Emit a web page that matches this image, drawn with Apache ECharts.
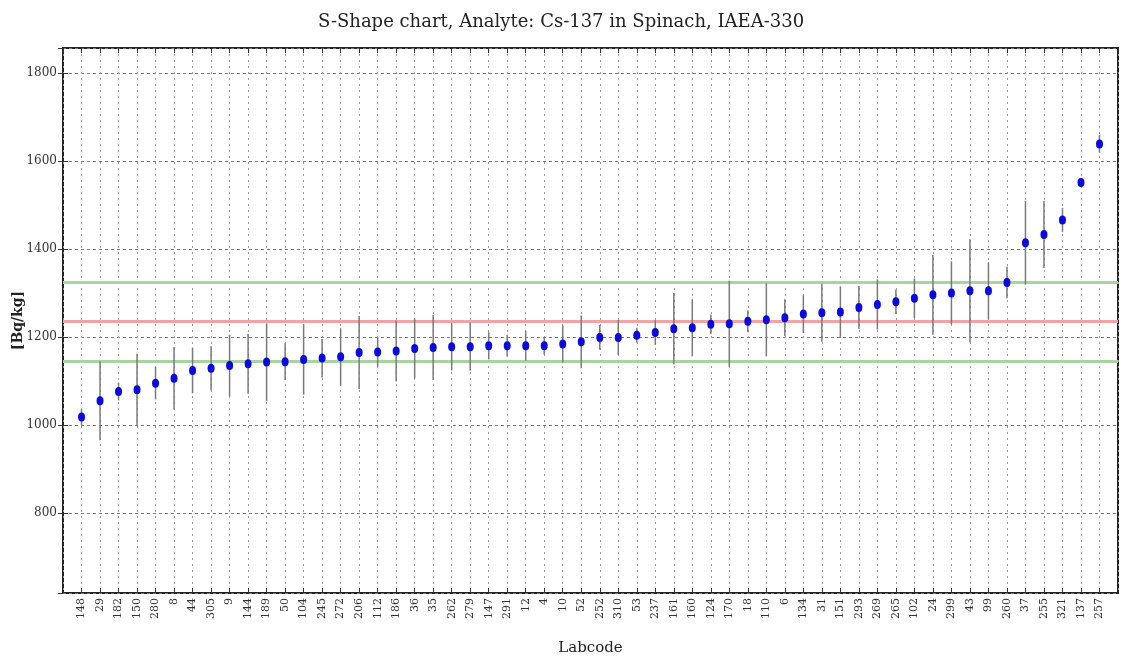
<!DOCTYPE html>
<html>
<head>
<meta charset="utf-8">
<script src="https://cdn.jsdelivr.net/npm/echarts@6/dist/echarts.min.js"></script>
<style>
html,body{margin:0;padding:0;background:#fff;}
#chart{width:1122px;height:662px;}
</style>
</head>
<body>
<div id="chart"></div>
<script>
// Lab codes (sorted by reported value)
var labcodes = ['148','29','182','150','280','8','44','305','9','144','189','50','104','245','272','206','112','186','36','35','262','279','147','291','12','4','10','52','252','310','53','237','161','160','124','170','18','110','6','134','31','151','293','269','265','102','24','299','43','99','260','37','255','321','137','257'];
// Reported values [Bq/kg]
var values = [1018,1055,1076,1080,1095,1106,1124,1129,1135,1139,1143,1144,1149,1152,1155,1165,1166,1168,1174,1176,1178,1178,1180,1180,1180,1180,1184,1189,1199,1199,1204,1210,1219,1221,1229,1230,1236,1239,1244,1252,1255,1257,1267,1274,1280,1288,1296,1300,1305,1305,1324,1414,1433,1466,1551,1639];
// Reported uncertainties [Bq/kg]
var uncertainties = [18,90,20,82,37,71,52,50,70,68,88,42,80,44,65,83,34,69,68,74,54,55,31,25,34,20,42,60,28,40,17,28,81,65,22,98,25,83,42,43,66,58,49,57,28,45,91,72,117,65,36,95,76,27,10,20];
// Reference value and acceptance limits
var refValue = 1235;
var limitLow = 1145;
var limitHigh = 1325;
var yTicks = [800,1000,1200,1400,1600,1800];

var pointData = values.map(function(v,i){ return [i+1, v]; });
var barData = values.map(function(v,i){ return [i+1, v-uncertainties[i], v+uncertainties[i]]; });

var serif = 'DejaVu Serif';
var chart = echarts.init(document.getElementById('chart'));
var yMin = 618, yMax = 1857;
var option = {
  animation: false,
  backgroundColor: '#ffffff',
  title: {
    text: 'S-Shape chart, Analyte: Cs-137 in Spinach, IAEA-330',
    left: 'center', top: 8,
    textStyle: {fontFamily: serif, fontSize: 18, fontWeight: 'normal', color: '#222'}
  },
  grid: {left: 63, right: 4, top: 48, bottom: 69, show: true, borderColor: '#222', borderWidth: 2, backgroundColor: '#fff', containLabel: false, outerBoundsMode: 'none'},
  xAxis: [{
    type: 'value', min: 0, max: labcodes.length + 1, interval: 1,
    name: 'Labcode', nameLocation: 'middle', nameGap: 48, nameMoveOverlap: false,
    nameTextStyle: {fontFamily: serif, fontSize: 15, color: '#222'},
    axisLine: {show: false},
    axisTick: {show: true, inside: true, length: 5, lineStyle: {color: '#333'}},
    axisLabel: {
      rotate: 90, fontFamily: serif, fontSize: 11, color: '#333', margin: 5,
      showMinLabel: false, showMaxLabel: false,
      formatter: function(v){ return (v >= 1 && v <= labcodes.length) ? labcodes[v-1] : ''; }
    },
    splitLine: {show: true, lineStyle: {color: '#9a9a9a', type: [2,4], width: 1}}
  },{
    type: 'value', position: 'top', min: 0, max: labcodes.length + 1, interval: 1,
    axisLine: {show: false},
    axisTick: {show: true, inside: true, length: 5, lineStyle: {color: '#333'}},
    axisLabel: {show: false}, splitLine: {show: false}
  }],
  yAxis: [{
    type: 'value', min: yMin, max: yMax, splitNumber: 6,
    name: '[Bq/kg]', nameLocation: 'middle', nameGap: 38, nameMoveOverlap: false,
    nameTextStyle: {fontFamily: serif, fontSize: 14, fontWeight: 'bold', color: '#222'},
    axisLine: {show: false},
    axisTick: {show: true, inside: true, length: 5, lineStyle: {color: '#333'}},
    axisLabel: {fontFamily: serif, fontSize: 12, color: '#333', margin: 6, showMinLabel: false, showMaxLabel: false,
      formatter: function(v){ return yTicks.indexOf(v) >= 0 ? String(v) : ''; }},
    splitLine: {show: true, lineStyle: {color: '#777', type: [3,3], width: 1}}
  },{
    type: 'value', position: 'right', min: yMin, max: yMax, splitNumber: 6,
    axisLine: {show: false},
    axisTick: {show: true, inside: true, length: 5, lineStyle: {color: '#333'}},
    axisLabel: {show: false}, splitLine: {show: false}
  }],
  series: [{
    type: 'custom',
    z: 2,
    data: barData,
    renderItem: function(params, api){
      var top = api.coord([api.value(0), api.value(2)]);
      var bot = api.coord([api.value(0), api.value(1)]);
      return {type: 'line', shape: {x1: top[0], y1: top[1], x2: bot[0], y2: bot[1]},
        style: {stroke: '#7a7a7a', lineWidth: 1.5}};
    },
    markLine: {
      silent: true, symbol: 'none', label: {show: false}, z: 1,
      data: [
        {yAxis: limitHigh, lineStyle: {color: '#a9d4a2', width: 3, type: 'solid'}},
        {yAxis: refValue, lineStyle: {color: '#f2a3a3', width: 3, type: 'solid'}},
        {yAxis: limitLow, lineStyle: {color: '#a9d4a2', width: 3, type: 'solid'}}
      ]
    }
  },{
    type: 'scatter',
    z: 3,
    data: pointData,
    symbol: 'circle',
    symbolSize: [7, 9],
    itemStyle: {color: '#0a0ae0', opacity: 1}
  }]
};
chart.setOption(option);
</script>
</body>
</html>
